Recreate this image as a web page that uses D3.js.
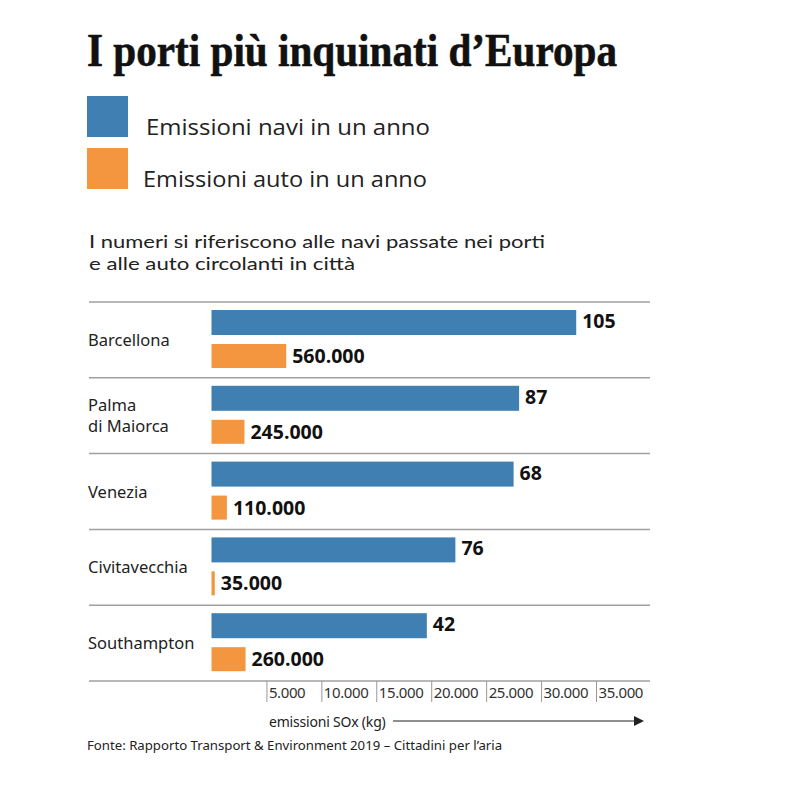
<!DOCTYPE html>
<html>
<head>
<meta charset="utf-8">
<script src="https://cdn.jsdelivr.net/npm/d3@7"></script>
<style>
  html, body { margin: 0; padding: 0; background: #ffffff; }
  svg { display: block; }
</style>
</head>
<body>
<svg id="chart" width="800" height="796"></svg>
<script>
// ---- Data ----
const categories = ["Barcellona", "Palma\ndi Maiorca", "Venezia", "Civitavecchia", "Southampton"];
// bar lengths read against the SOx axis (kg)
const naviKg = [33200, 28000, 27500, 22200, 19600];
const autoKg = [6800, 3000, 1400, 300, 3100];
// printed value labels
const naviLabels = [105, 87, 68, 76, 42];
const autoLabels = [560000, 245000, 110000, 35000, 260000];
const tickValues = [5000, 10000, 15000, 20000, 25000, 30000, 35000];
const seriesNames = ["Emissioni navi in un anno", "Emissioni auto in un anno"];

const title = "I porti più inquinati d\u2019Europa";
const subtitle = ["I numeri si riferiscono alle navi passate nei porti", "e alle auto circolanti in città"];
const axisTitle = "emissioni SOx (kg)";
const source = "Fonte: Rapporto Transport & Environment 2019 \u2013 Cittadini per l\u2019aria";

const BLUE = "#3f7fb1";
const ORANGE = "#f4953f";

const it = d3.formatLocale({decimal: ",", thousands: ".", grouping: [3], currency: ["€", ""]});
const fmt = it.format(",d");

const svg = d3.select("#chart");

// Title
svg.append("text")
  .attr("x", 87).attr("y", 66)
  .attr("font-family", "'Liberation Serif', 'DejaVu Serif', serif")
  .attr("font-weight", "bold")
  .attr("font-size", 46)
  .attr("fill", "#111")
  .attr("stroke", "#111").attr("stroke-width", 0.6)
  .attr("textLength", 530)
  .attr("lengthAdjust", "spacingAndGlyphs")
  .text(title);

// Legend
const legend = svg.append("g");
const legColors = [BLUE, ORANGE];
const legY = [96, 148];
const legTextX = [146, 143];
seriesNames.forEach((n, i) => {
  legend.append("rect").attr("x", 87).attr("y", legY[i]).attr("width", 41).attr("height", 41).attr("fill", legColors[i]);
  legend.append("text")
    .attr("x", legTextX[i]).attr("y", legY[i] + 39)
    .attr("font-family", "'Open Sans', 'Noto Sans', sans-serif")
    .attr("font-size", 21)
    .attr("fill", "#222")
    .attr("textLength", 284)
    .attr("lengthAdjust", "spacingAndGlyphs")
    .text(n);
});

// Subtitle
const subLen = [456, 266];
subtitle.forEach((s, i) => {
  svg.append("text")
    .attr("x", 89).attr("y", 248 + i * 22)
    .attr("font-family", "Lato, 'Noto Sans', sans-serif")
    .attr("font-size", 17.5)
    .attr("fill", "#222")
    .attr("textLength", subLen[i])
    .attr("lengthAdjust", "spacingAndGlyphs")
    .text(s);
});

// Scales
const x = d3.scaleLinear().domain([0, 35000]).range([211.5, 596]);
const bandTop = 302, bandH = 75.8;
const y = d3.scaleBand().domain(d3.range(categories.length)).range([bandTop, bandTop + bandH * categories.length]).padding(0);

// Separator lines
const lines = d3.range(categories.length + 1).map(i => bandTop + i * bandH);
svg.append("g").selectAll("line").data(lines).join("line")
  .attr("x1", 89).attr("x2", 650)
  .attr("y1", d => d).attr("y2", d => d)
  .attr("stroke", "#a0a0a0").attr("stroke-width", 1.5);

// Category labels
const catG = svg.append("g");
categories.forEach((c, i) => {
  const parts = c.split("\n");
  const cy = y(i) + bandH / 2;
  parts.forEach((p, j) => {
    catG.append("text")
      .attr("x", 88)
      .attr("y", cy + 6 + (j - (parts.length - 1) / 2) * 21)
      .attr("font-family", "'Noto Sans', 'Open Sans', sans-serif")
      .attr("font-size", 16.5)
      .attr("fill", "#222")
      .text(p);
  });
});

// Bars
const barG = svg.append("g");
barG.selectAll("rect.navi").data(naviKg).join("rect")
  .attr("class", "navi")
  .attr("x", x(0)).attr("y", (d, i) => y(i) + 8)
  .attr("width", d => x(d) - x(0)).attr("height", 25)
  .attr("fill", BLUE);
barG.selectAll("rect.auto").data(autoKg).join("rect")
  .attr("class", "auto")
  .attr("x", x(0)).attr("y", (d, i) => y(i) + 42)
  .attr("width", d => x(d) - x(0)).attr("height", 24)
  .attr("fill", ORANGE);

// Value labels
barG.selectAll("text.navi").data(naviKg).join("text")
  .attr("class", "navi")
  .attr("x", d => x(d) + 6).attr("y", (d, i) => y(i) + 26)
  .attr("font-family", "'Open Sans', 'Noto Sans', sans-serif")
  .attr("font-weight", "bold").attr("font-size", 19.5).attr("fill", "#111")
  .text((d, i) => fmt(naviLabels[i]));
barG.selectAll("text.auto").data(autoKg).join("text")
  .attr("class", "auto")
  .attr("x", d => x(d) + 6).attr("y", (d, i) => y(i) + 61)
  .attr("font-family", "'Open Sans', 'Noto Sans', sans-serif")
  .attr("font-weight", "bold").attr("font-size", 19.5).attr("fill", "#111")
  .text((d, i) => fmt(autoLabels[i]));

// Axis
const axisY = bandTop + bandH * categories.length;
const axis = svg.append("g").attr("transform", `translate(0,${axisY})`)
  .call(d3.axisBottom(x).tickValues(tickValues).tickSize(21).tickFormat(fmt));
axis.select(".domain").remove();
axis.selectAll(".tick line").attr("stroke", "#999").attr("stroke-width", 1);
axis.selectAll(".tick text")
  .attr("text-anchor", "start").attr("x", 2).attr("y", 17).attr("dy", 0)
  .attr("font-family", "'Noto Sans', 'Open Sans', sans-serif")
  .attr("font-size", 15).attr("fill", "#333")
  .attr("letter-spacing", -0.4);

// Axis title and arrow
svg.append("text")
  .attr("x", 269).attr("y", 727)
  .attr("font-family", "'Noto Sans', 'Open Sans', sans-serif")
  .attr("font-size", 14).attr("fill", "#222")
  .attr("letter-spacing", -0.2)
  .text(axisTitle);
svg.append("line").attr("x1", 393).attr("x2", 634).attr("y1", 721).attr("y2", 721)
  .attr("stroke", "#222").attr("stroke-width", 1.2);
svg.append("path").attr("d", "M634,716 L644,721 L634,726 Z").attr("fill", "#222");

// Source
svg.append("text")
  .attr("x", 87).attr("y", 750)
  .attr("font-family", "'Noto Sans', 'Open Sans', sans-serif")
  .attr("font-size", 13.2).attr("fill", "#222")
  .text(source);
</script>
</body>
</html>
